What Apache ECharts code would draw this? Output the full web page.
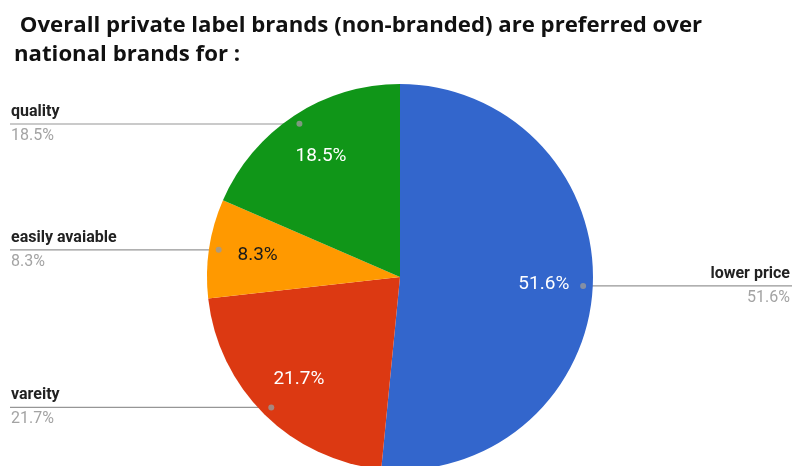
<!DOCTYPE html>
<html>
<head>
<meta charset="utf-8">
<style>
  html, body { margin: 0; padding: 0; background: #ffffff; }
  #chart { width: 793px; height: 466px; }
</style>
<script src="https://cdn.jsdelivr.net/npm/echarts@6/dist/echarts.min.js"></script>
</head>
<body>
<div id="chart"></div>
<script>
// Reasons for preferring private label brands
var categories = ['lower price', 'vareity', 'easily avaiable', 'quality'];
var shares = [51.6, 21.7, 8.3, 18.5];
var sliceColors = ['#3366cc', '#dc3912', '#ff9900', '#109618'];
var innerLabelColors = ['#ffffff', '#ffffff', '#1a1a1a', '#ffffff'];

var titleText = ' Overall private label brands (non-branded) are preferred over\nnational brands for :';

var PIE_CENTER = [400, 277];
var PIE_RADIUS = 193;

var total = shares.reduce(function (a, b) { return a + b; }, 0);

// middle of each slice along the angle axis (in value units)
var midPoints = [];
(function () {
  var acc = 0;
  for (var i = 0; i < shares.length; i++) {
    midPoints.push(acc + shares[i] / 2);
    acc += shares[i];
  }
})();

var chart = echarts.init(document.getElementById('chart'), null, { renderer: 'canvas' });

function pieData(colorFn, labelFn) {
  return categories.map(function (name, i) {
    var item = { name: name, value: shares[i], itemStyle: { color: colorFn(i) } };
    if (labelFn) item.label = labelFn(i);
    return item;
  });
}

var option = {
  animation: false,
  backgroundColor: '#ffffff',
  textStyle: { fontFamily: 'Roboto' },
  title: {
    text: titleText,
    left: 9,
    top: 6,
    textStyle: {
      fontFamily: 'Open Sans',
      fontWeight: 'bold',
      fontSize: 22.2,
      lineHeight: 29,
      color: '#111111'
    }
  },
  polar: { center: PIE_CENTER, radius: PIE_RADIUS },
  angleAxis: {
    type: 'value', min: 0, max: total, startAngle: 90, clockwise: true, show: false
  },
  radiusAxis: { type: 'value', min: 0, max: 1, show: false },
  series: [
    {
      // the pie itself
      type: 'pie',
      center: PIE_CENTER,
      radius: [0, PIE_RADIUS],
      startAngle: 90,
      clockwise: true,
      silent: true,
      label: { show: false },
      labelLine: { show: false },
      itemStyle: { borderWidth: 0 },
      data: pieData(function (i) { return sliceColors[i]; })
    },
    {
      // percentage labels inside the slices
      type: 'pie',
      center: PIE_CENTER,
      radius: [90, 192],
      startAngle: 90,
      clockwise: true,
      silent: true,
      avoidLabelOverlap: false,
      itemStyle: { color: 'transparent', borderWidth: 0 },
      label: {
        show: true,
        position: 'inside',
        formatter: '{c}%',
        fontFamily: 'Roboto',
        fontSize: 19
      },
      labelLine: { show: false },
      data: pieData(function () { return 'transparent'; }, function (i) {
        return { color: innerLabelColors[i] };
      })
    },
    {
      // name / value callouts with leader lines
      type: 'pie',
      center: PIE_CENTER,
      radius: [0, 183],
      startAngle: 90,
      clockwise: true,
      silent: true,
      avoidLabelOverlap: false,
      itemStyle: { color: 'transparent', borderWidth: 0 },
      label: {
        show: true,
        position: 'outside',
        formatter: '{n|{b}}\n{v|{c}%}',
        rich: {
          n: { fontFamily: 'Roboto', fontWeight: 'bold', fontSize: 16, lineHeight: 24, color: '#222222' },
          v: { fontFamily: 'Roboto', fontSize: 16, lineHeight: 24, color: '#a3a3a3' }
        }
      },
      labelLine: {
        show: true,
        length: 0,
        length2: 10,
        lineStyle: { color: '#969696', width: 1.2 }
      },
      labelLayout: function (params) {
        var pts = params.labelLinePoints;
        if (!pts) return {};
        var w = chart.getWidth();
        var start = pts[0];
        var isLeft = start[0] < w / 2;
        var endX = isLeft ? 10 : w - 1;
        return {
          x: isLeft ? 11 : w - 3,
          y: start[1],
          align: isLeft ? 'left' : 'right',
          verticalAlign: 'middle',
          labelLinePoints: [start, [endX, start[1]], [endX, start[1]]]
        };
      },
      data: pieData(function () { return 'transparent'; })
    },
    {
      // anchor dots at the start of each leader line
      type: 'scatter',
      coordinateSystem: 'polar',
      silent: true,
      symbol: 'circle',
      symbolSize: 6,
      itemStyle: { color: '#9a9a9a' },
      data: midPoints.map(function (m) { return [0.95, m]; })
    }
  ]
};

chart.setOption(option);
</script>
</body>
</html>
